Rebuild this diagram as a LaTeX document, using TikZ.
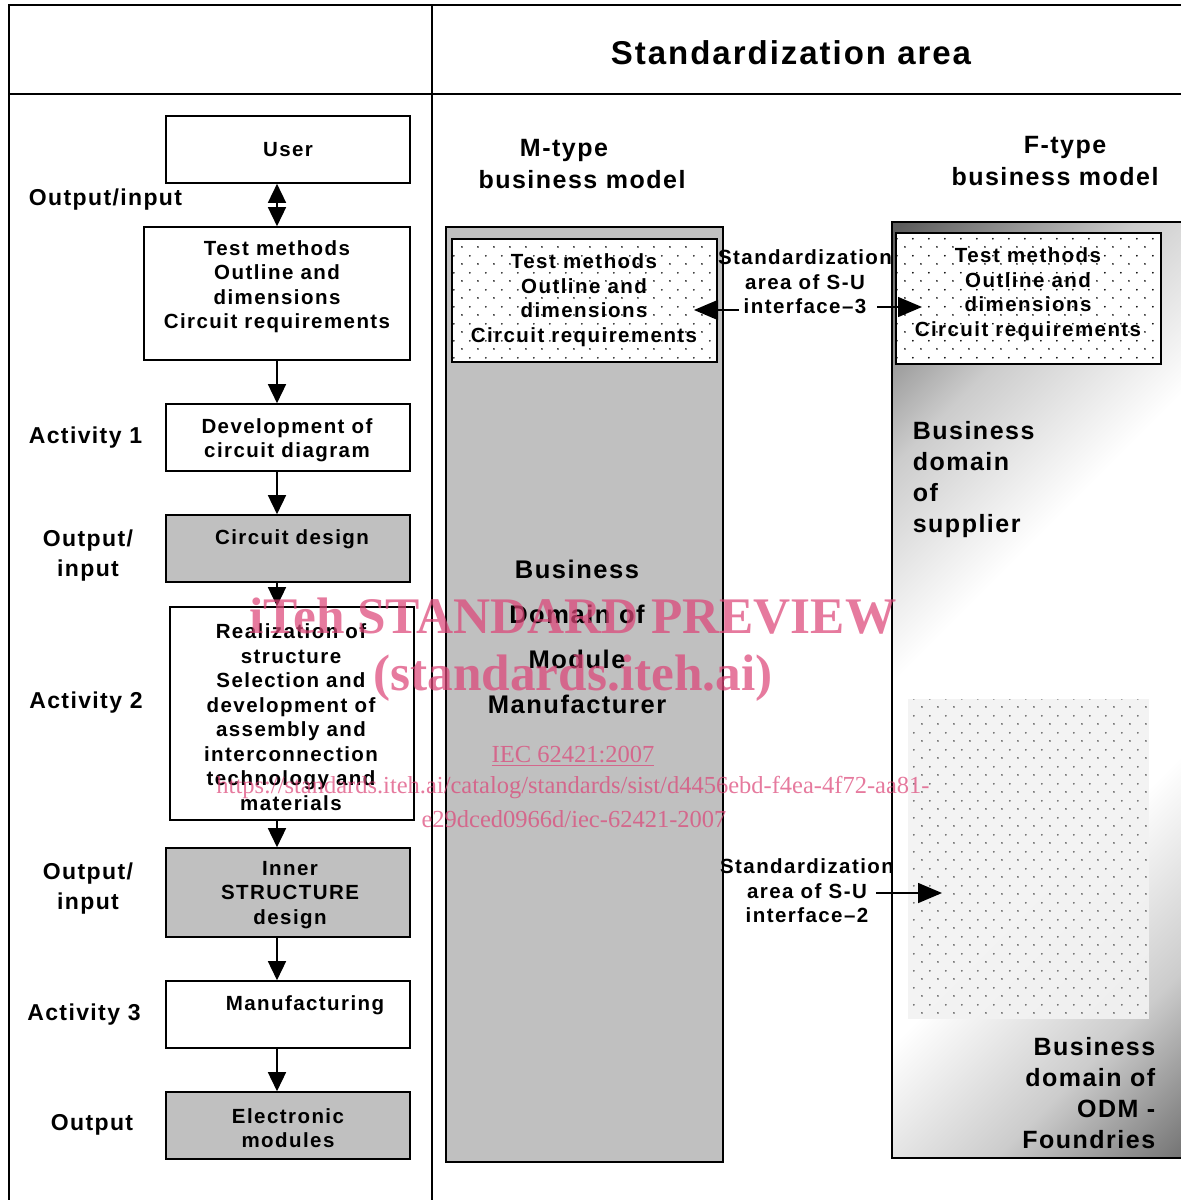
\documentclass[tikz,border=0pt]{standalone}
\usepackage{fontspec}
\setmainfont{Liberation Sans}
\newfontfamily\bxf[LetterSpace=7]{Liberation Sans}
\newfontfamily\lbf[LetterSpace=6]{Liberation Sans}
\newfontfamily\wmf{Liberation Serif}
\usetikzlibrary{arrows.meta,patterns.meta,shadings}
\definecolor{boxgray}{HTML}{C0C0C0}
\definecolor{wm}{RGB}{220,70,120}
\definecolor{fdark}{gray}{0.36}
\definecolor{fmid}{gray}{0.8}
\definecolor{dotgray}{gray}{0.3}
\definecolor{regfill}{gray}{0.95}
\pgfdeclareverticalshading{diagF}{100bp}{color(0bp)=(fdark); color(15bp)=(fdark); color(28bp)=(fmid); color(40bp)=(white); color(60bp)=(white); color(72bp)=(fmid); color(85bp)=(fdark); color(100bp)=(fdark)}
\tikzdeclarepattern{
  name=sdots,
  type=uncolored,
  bounding box={(0pt,0pt) and (16.4pt,16.6pt)},
  tile size={(16.4pt,16.6pt)},
  code={\pgfpathcircle{\pgfpoint{4.1pt}{4.15pt}}{0.95pt}\pgfpathcircle{\pgfpoint{12.3pt}{12.45pt}}{0.95pt}\pgfusepath{fill}}
}
\begin{document}
\begin{tikzpicture}[x=1pt,y=-1pt,line width=1.6pt,
  box/.style={draw,line width=1.6pt,minimum width=244,minimum height=67,inner sep=0},
  gbox/.style={box,fill=boxgray},
  btxt/.style={font=\bxf\bfseries\fontsize{20.5}{24.5}\selectfont,align=center,inner sep=0,yshift=-1.5pt},
  lbl/.style={font=\lbf\bfseries\fontsize{23}{30}\selectfont,align=center,inner sep=0,yshift=-2pt},
  htxt/.style={font=\lbf\bfseries\fontsize{25}{32}\selectfont,inner sep=0},
  arr/.style={-{Triangle[length=19pt,width=18pt]},line width=1.5pt},
  arrd/.style={{Triangle[length=19pt,width=18pt]}-{Triangle[length=19pt,width=18pt]},line width=1.5pt},
  arrb/.style={-{Triangle[length=24pt,width=20pt]},line width=1.5pt},
  dbox/.style={draw,line width=1.6pt,preaction={fill=white},pattern=sdots,pattern color=black,inner sep=0},
  wmk/.style={text=wm,text opacity=0.72,inner sep=0}]
\useasboundingbox (0,0) rectangle (1181,1200);
% frame
\draw (9,1205) -- (9,5) -- (1186,5);
\draw (9,94) -- (1186,94);
\draw (432,5) -- (432,1205);
\node[font=\lbf\bfseries\fontsize{33}{36}\selectfont,inner sep=0] (hdr) at (791,53) {Standardization area};
% left column boxes
\node[box] (user) at (288,149.5) {};
\node[box,minimum width=266,minimum height=133] (tm) at (277,293.5) {};
\node[box] (dev) at (288,437.5) {};
\node[gbox] (cd) at (288,548.5) {};
\node[box,minimum height=213] (real) at (292,713.5) {};
\node[gbox,minimum height=89] (inner) at (288,892.5) {};
\node[box] (manu) at (288,1014.5) {};
\node[gbox] (elec) at (288,1125.5) {};
\node[btxt] (tuser) at (288,148) {User};
\node[btxt] (ttm) at (277,285) {Test methods\\Outline and\\dimensions\\Circuit requirements};
\node[btxt] (tdev) at (287,438.5) {Development of\\circuit diagram};
\node[btxt] (tcd) at (292,538) {Circuit design};
\node[btxt] (treal) at (291,715.5) {Realization of\\structure\\Selection and\\development of\\assembly and\\interconnection\\technology and\\materials};
\node[btxt] (tinner) at (290,893.5) {Inner\\STRUCTURE\\design};
\node[btxt] (tmanu) at (305,1004) {Manufacturing};
\node[btxt] (telec) at (288,1126.5) {Electronic\\modules};
% left labels
\node[lbl] (l1) at (105.5,198) {Output/input};
\node[lbl] (l2) at (85.5,436) {Activity 1};
\node[lbl] (l3) at (88,554) {Output/\\input};
\node[lbl] (l4) at (86,701) {Activity 2};
\node[lbl] (l5) at (88,887) {Output/\\input};
\node[lbl] (l6) at (84,1013) {Activity 3};
\node[lbl] (l7) at (92,1123) {Output};
% left arrows
\draw[arrd] (tm.north |- user.south) -- (tm.north);
\draw[arr] (tm.south) -- (tm.south |- dev.north);
\draw[arr] (tm.south |- dev.south) -- (tm.south |- cd.north);
\draw[arr] (tm.south |- cd.south) -- (tm.south |- real.north);
\draw[arr] (tm.south |- real.south) -- (tm.south |- inner.north);
\draw[arr] (tm.south |- inner.south) -- (tm.south |- manu.north);
\draw[arr] (tm.south |- manu.south) -- (tm.south |- elec.north);
% headings
\node[htxt,align=center] (mhead) at (582,164) {M-type\hspace*{36pt}\\business model};
\node[htxt,align=center] (fhead) at (1055,161) {\hspace*{20pt}F-type\\business model};
% M-type box
\node[draw,line width=1.6pt,fill=boxgray,minimum width=277,minimum height=935,inner sep=0] (mbox) at (584.5,694.5) {};
\node[dbox,minimum width=265,minimum height=123] (mdot) at (584.5,300.5) {};
\node[btxt] (tmdot) at (584,298.5) {Test methods\\Outline and\\dimensions\\Circuit requirements};
\node[font=\lbf\bfseries\fontsize{25.5}{45}\selectfont,align=center,inner sep=0] (mdom) at (577,637) {Business\\Domain of\\Module\\Manufacturer};
% F-type box
\node[draw,line width=1.6pt,shading=diagF,shading angle=45,minimum width=348,minimum height=936,inner sep=0] (fbox) at (1066,690) {};
\node[dbox,minimum width=265,minimum height=131] (fdot) at (1028.5,298.5) {};
\node[btxt] (tfdot) at (1028,292.5) {Test methods\\Outline and\\dimensions\\Circuit requirements};
\fill[regfill,opacity=0.92] (908,699) rectangle (1149,1019);
\fill[pattern=sdots,pattern color=dotgray] (908,699) rectangle (1149,1019);
\node[htxt,font=\lbf\bfseries\fontsize{25}{31}\selectfont,align=left,anchor=west] (sup) at (912,479.5) {Business\\domain\\of\\supplier};
\node[htxt,font=\lbf\bfseries\fontsize{25}{31}\selectfont,align=right,anchor=east] (odm) at (1156,1093) {Business\\domain of\\ODM -\\Foundries};
% S-U interfaces
\node[btxt] (su3) at (805,280.5) {Standardization\\area of S-U\\interface–3};
\node[btxt] (su2) at (807,889.5) {Standardization\\area of S-U\\interface–2};
\coordinate (s3a) at (739,310);
\coordinate (s3b) at (694,310);
\coordinate (s3c) at (877,307);
\coordinate (s3d) at (922,307);
\coordinate (s2a) at (876,893);
\coordinate (s2b) at (942,893);
\draw[arrb] (s3a) -- (s3b);
\draw[arrb] (s3c) -- (s3d);
\draw[arrb] (s2a) -- (s2b);
% watermark
\node[wmk,font=\wmf\bfseries\fontsize{51.3}{51}\selectfont] (w1) at (573,616) {iTeh STANDARD PREVIEW};
\node[wmk,font=\wmf\bfseries\fontsize{51.3}{51}\selectfont] (w2) at (573,678) {(standards.iteh.ai)};
\node[wmk,font=\wmf\fontsize{24.5}{24}\selectfont] (w3) at (573,756) {\underline{IEC 62421:2007}};
\node[wmk,font=\wmf\fontsize{24.5}{24}\selectfont] (w4) at (573,788) {https://standards.iteh.ai/catalog/standards/sist/d4456ebd-f4ea-4f72-aa81-};
\node[wmk,font=\wmf\fontsize{24.5}{24}\selectfont] (w5) at (574,819) {e29dced0966d/iec-62421-2007};
\end{tikzpicture}
\end{document}
